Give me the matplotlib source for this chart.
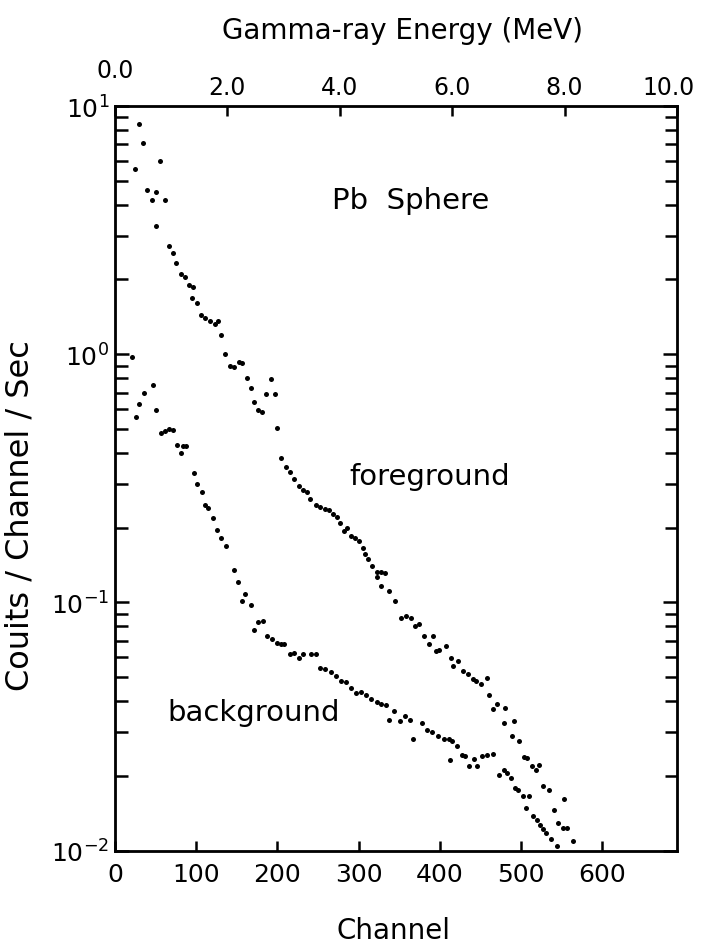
import matplotlib
matplotlib.use('Agg')
import matplotlib.pyplot as plt
from matplotlib.transforms import ScaledTranslation

# foreground (Pb sphere) spectrum
fg_channel = [30, 35, 25, 56, 40, 50, 45, 62, 51, 67, 71, 75, 81, 86, 91, 96, 95, 101,
              106, 111, 117, 123, 127, 131, 135, 141, 146, 153, 157, 162, 167, 171, 176,
              181, 186, 192, 197, 200, 205, 211, 215, 220, 227, 232, 237, 240, 247, 252,
              258, 263, 268, 273, 277, 282, 286, 291, 296, 301, 305, 308, 312, 317, 322,
              327, 333, 322, 327, 337, 345, 352, 358, 364, 370, 374, 381, 387, 391, 395,
              399, 408, 414, 416, 422, 429, 435, 441, 445, 451, 458, 460, 466, 470, 480,
              479, 491, 489, 497, 503, 507, 514, 518, 522, 527, 535, 541, 546, 553, 552,
              556, 564]
fg_counts = [8.5, 7.1, 5.6, 6.0, 4.6, 4.5, 4.2, 4.2, 3.3, 2.74, 2.55, 2.32, 2.10, 2.05,
             1.90, 1.87, 1.68, 1.61, 1.44, 1.40, 1.36, 1.32, 1.36, 1.20, 1.00, 0.90, 0.89,
             0.93, 0.92, 0.805, 0.728, 0.643, 0.596, 0.584, 0.69, 0.798, 0.69, 0.503,
             0.383, 0.352, 0.335, 0.313, 0.294, 0.283, 0.279, 0.26, 0.246, 0.243, 0.237,
             0.235, 0.228, 0.221, 0.208, 0.194, 0.20, 0.185, 0.182, 0.176, 0.166, 0.157,
             0.149, 0.140, 0.132, 0.132, 0.131, 0.126, 0.116, 0.111, 0.101, 0.0867,
             0.088, 0.0867, 0.080, 0.0815, 0.0731, 0.0677, 0.0731, 0.0637, 0.0645,
             0.0667, 0.0598, 0.0553, 0.058, 0.0528, 0.0513, 0.049, 0.0482, 0.0467,
             0.0497, 0.0425, 0.0371, 0.0388, 0.0376, 0.0327, 0.0332, 0.0289, 0.0276,
             0.0239, 0.0237, 0.0219, 0.0212, 0.0222, 0.0182, 0.0176, 0.0146, 0.0129,
             0.0161, 0.0123, 0.0123, 0.0109]

# background spectrum
bg_channel = [21, 26, 29, 36, 47, 50, 57, 61, 66, 71, 76, 81, 84, 88, 97, 101, 107, 111,
              115, 121, 126, 131, 137, 146, 151, 160, 156, 167, 171, 176, 182, 187, 193,
              199, 204, 208, 216, 221, 226, 232, 241, 247, 253, 259, 266, 272, 278, 284,
              291, 297, 303, 309, 315, 322, 328, 334, 337, 344, 351, 357, 363, 367, 378,
              384, 390, 398, 405, 411, 415, 421, 412, 427, 431, 436, 442, 446, 452, 458,
              466, 473, 479, 483, 487, 492, 496, 502, 510, 506, 515, 519, 523, 527, 531,
              537, 544]
bg_counts = [0.97, 0.556, 0.628, 0.695, 0.752, 0.594, 0.482, 0.491, 0.499, 0.494, 0.43,
             0.398, 0.427, 0.427, 0.333, 0.299, 0.279, 0.246, 0.239, 0.218, 0.195, 0.182,
             0.168, 0.135, 0.121, 0.108, 0.101, 0.0975, 0.0773, 0.0836, 0.0841, 0.0731,
             0.0714, 0.0684, 0.0678, 0.0678, 0.0621, 0.0625, 0.0594, 0.0617, 0.0617,
             0.0617, 0.0546, 0.0541, 0.0524, 0.0505, 0.0482, 0.0479, 0.0453, 0.0432,
             0.0435, 0.0425, 0.0409, 0.0396, 0.0388, 0.0385, 0.0337, 0.0365, 0.0332,
             0.0348, 0.0337, 0.0281, 0.0327, 0.0305, 0.0299, 0.0289, 0.0281, 0.0281,
             0.0276, 0.0263, 0.0231, 0.0242, 0.0241, 0.0219, 0.0233, 0.0219, 0.024,
             0.0242, 0.0244, 0.0202, 0.0212, 0.0206, 0.0196, 0.0179, 0.0176, 0.0166,
             0.0166, 0.0149, 0.0138, 0.0133, 0.0127, 0.0122, 0.0118, 0.0111, 0.0104]

channel_ticks = [0, 100, 200, 300, 400, 500, 600]
energy_ticks = [0, 2, 4, 6, 8, 10]
energy_labels = ['0.0', '2.0', '4.0', '6.0', '8.0', '10.0']
channel_max = 692

plt.rcParams['font.family'] = ['DejaVu Sans']
plt.rcParams['mathtext.default'] = 'regular'

fig = plt.figure(figsize=(7.02, 9.53), dpi=100)
ax = fig.add_axes([0.1638, 0.1065, 0.8006, 0.7812])

ax.plot(fg_channel, fg_counts, 'o', color='black', ms=3.6, mec='none')
ax.plot(bg_channel, bg_counts, 'o', color='black', ms=3.6, mec='none')

ax.set_yscale('log')
ax.set_ylim(1e-2, 1e1)
ax.set_xlim(0, channel_max)
ax.set_xticks(channel_ticks)

for s in ax.spines.values():
    s.set_linewidth(2)

ax.tick_params(axis='y', which='both', direction='in', left=True, right=True,
               width=1.8, labelsize=18, pad=4)
ax.tick_params(axis='y', which='major', length=10)
ax.tick_params(axis='y', which='minor', length=9)
ax.tick_params(axis='x', which='major', direction='in', length=7, width=1.8,
               labelsize=18, pad=8)

# energy scale on top
ax2 = ax.twiny()
ax2.set_xlim(0, 10)
ax2.set_xticks(energy_ticks)
ax2.set_xticklabels(energy_labels)
ax2.tick_params(axis='x', direction='in', length=7, width=1.8, labelsize=17, pad=5)
top_ticks = ax2.xaxis.get_major_ticks()
top_ticks[0].set_pad(17)
# "10.0" sits a little left of its tick in the original
lab = top_ticks[-1].label2
lab.set_transform(lab.get_transform() + ScaledTranslation(-6 / 72, 0, fig.dpi_scale_trans))

ax.set_xlabel('Channel', fontsize=20)
ax.xaxis.set_label_coords(0.495, -0.088)
ax2.set_xlabel('Gamma-ray Energy (MeV)', fontsize=20)
ax2.xaxis.set_label_coords(0.512, 1.092)
ax.set_ylabel('Couits / Channel / Sec', fontsize=23)
ax.yaxis.set_label_coords(-0.141, 0.451)

ax.text(267, 4.2, 'Pb  Sphere', fontsize=21, va='center', ha='left')
ax.text(288, 0.322, 'foreground', fontsize=21, va='center', ha='left')
ax.text(65, 0.036, 'background', fontsize=21, va='center', ha='left')

fig.savefig('out.png', dpi=100)
